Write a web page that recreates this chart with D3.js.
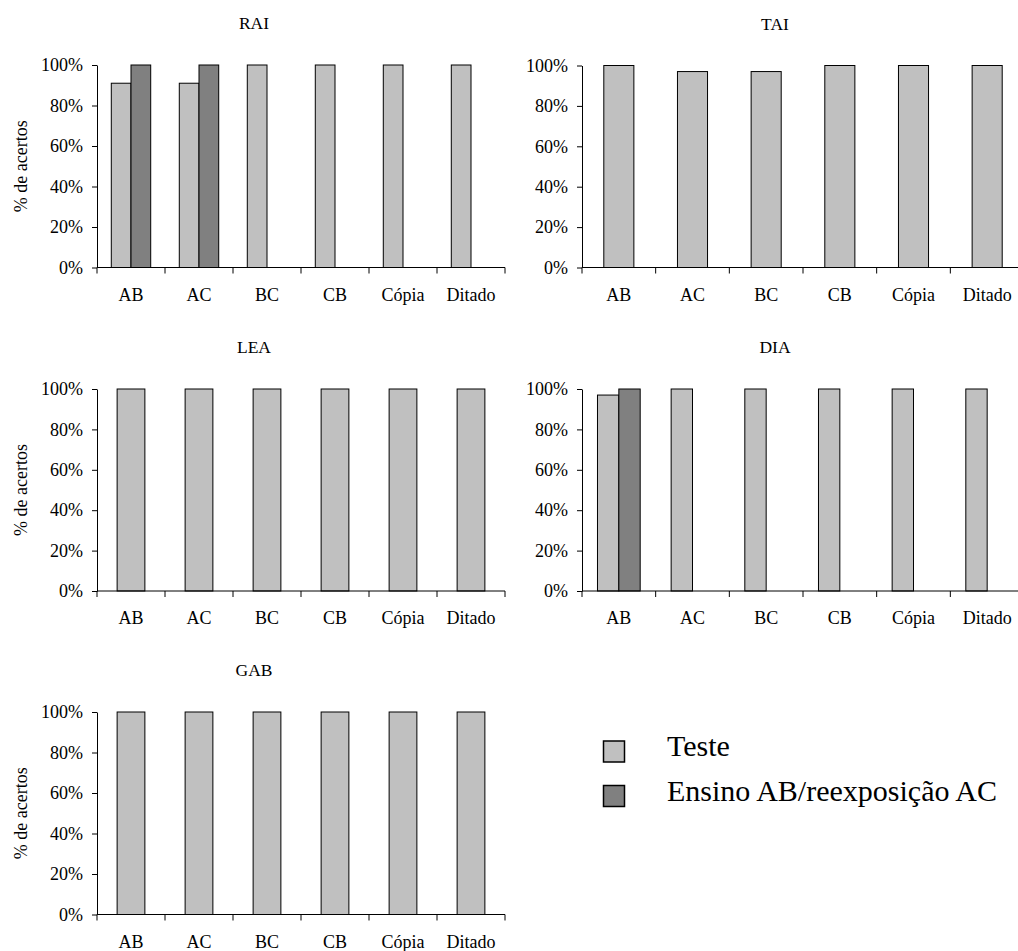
<!DOCTYPE html>
<html>
<head>
<meta charset="utf-8">
<script src="https://cdn.jsdelivr.net/npm/d3@7"></script>
<style>
  html, body { margin: 0; padding: 0; background: #fff; }
  svg { display: block; }
  text { font-family: "Liberation Serif", "Times New Roman", serif; fill: #000; }
</style>
</head>
<body>
<svg id="chart" width="1018" height="951"></svg>
<script>
// ---- data ----
const categories = ["AB", "AC", "BC", "CB", "Cópia", "Ditado"];
const seriesNames = ["Teste", "Ensino AB/reexposição AC"];
const yTicks = [0, 20, 40, 60, 80, 100];

const raiTeste  = [91, 91, 100, 100, 100, 100];
const raiEnsino = [100, 100, null, null, null, null];
const taiTeste  = [100, 97, 97, 100, 100, 100];
const leaTeste  = [100, 100, 100, 100, 100, 100];
const diaTeste  = [97, 100, 100, 100, 100, 100];
const diaEnsino = [100, null, null, null, null, null];
const gabTeste  = [100, 100, 100, 100, 100, 100];

const colors = ["#C0C0C0", "#808080"];

const panels = [
  { title: "RAI", series: [raiTeste, raiEnsino], x0: 97,  x1: 505,  yTop: 65,  yBot: 267.5, titleX: 254, yTitle: true },
  { title: "TAI", series: [taiTeste],            x0: 582, x1: 1024, yTop: 65.5, yBot: 267.5, titleX: 775, yTitle: false },
  { title: "LEA", series: [leaTeste],            x0: 97,  x1: 505,  yTop: 389, yBot: 591, titleX: 254, yTitle: true },
  { title: "DIA", series: [diaTeste, diaEnsino], x0: 582, x1: 1024, yTop: 389, yBot: 591, titleX: 775, yTitle: false },
  { title: "GAB", series: [gabTeste],            x0: 97,  x1: 505,  yTop: 712, yBot: 914.5, titleX: 254, yTitle: true }
];

const svg = d3.select("#chart");
const FS = 18;
const GAP = 1.45; // gap width (fraction of bar width)

panels.forEach(p => {
  const g = svg.append("g");
  const x = d3.scaleBand().domain(categories).range([p.x0, p.x1]).padding(0);
  const y = d3.scaleLinear().domain([0, 100]).range([p.yBot, p.yTop]);
  const nS = p.series.length;
  const barW = x.bandwidth() / (nS + GAP);
  const inner = d3.scaleBand().domain(d3.range(nS)).range([0, nS * barW]);

  // title
  g.append("text").attr("x", p.titleX).attr("y", p.yTop - 36)
    .attr("text-anchor", "middle").attr("font-size", FS - 0.5).text(p.title);

  // y axis
  const yAxis = d3.axisLeft(y).tickValues(yTicks).tickFormat(d => d + "%")
    .tickSize(5).tickPadding(9).tickSizeOuter(0);
  const ya = g.append("g").attr("transform", `translate(${p.x0},0)`).call(yAxis);
  ya.selectAll("text").attr("font-size", FS).attr("fill", "#000");
  ya.selectAll("line, path").attr("stroke", "#000");

  // y title
  if (p.yTitle) {
    g.append("text")
      .attr("transform", `translate(27,${(p.yTop + p.yBot) / 2}) rotate(-90)`)
      .attr("text-anchor", "middle").attr("font-size", FS).text("% de acertos");
  }

  // bars
  p.series.forEach((vals, si) => {
    g.append("g").selectAll("rect")
      .data(categories.map((c, i) => ({ c, v: vals[i] })).filter(d => d.v != null))
      .join("rect")
      .attr("x", d => x(d.c) + (x.bandwidth() - nS * barW) / 2 + inner(si))
      .attr("y", d => y(d.v))
      .attr("width", inner.bandwidth())
      .attr("height", d => y(0) - y(d.v))
      .attr("fill", colors[si])
      .attr("stroke", "#000").attr("stroke-width", 1);
  });

  // x axis line and boundary ticks
  g.append("line").attr("x1", p.x0).attr("x2", p.x1)
    .attr("y1", y(0)).attr("y2", y(0)).attr("stroke", "#000");
  const bounds = categories.map(c => x(c)).concat([p.x1]);
  g.append("g").selectAll("line").data(bounds).join("line")
    .attr("x1", d => d).attr("x2", d => d)
    .attr("y1", y(0)).attr("y2", y(0) + 6).attr("stroke", "#000");
  g.append("g").selectAll("text").data(categories).join("text")
    .attr("x", d => x(d) + x.bandwidth() / 2)
    .attr("y", y(0) + 33)
    .attr("text-anchor", "middle").attr("font-size", FS).text(d => d);
});

// legend
const leg = svg.append("g");
const legY = [741, 785.5];
seriesNames.forEach((name, i) => {
  leg.append("rect").attr("x", 603.5).attr("y", legY[i]).attr("width", 21).attr("height", 21)
    .attr("fill", colors[i]).attr("stroke", "#000").attr("stroke-width", 1.5);
  leg.append("text").attr("x", 667).attr("y", legY[i] + 15).attr("font-size", 30).text(name);
});
</script>
</body>
</html>
